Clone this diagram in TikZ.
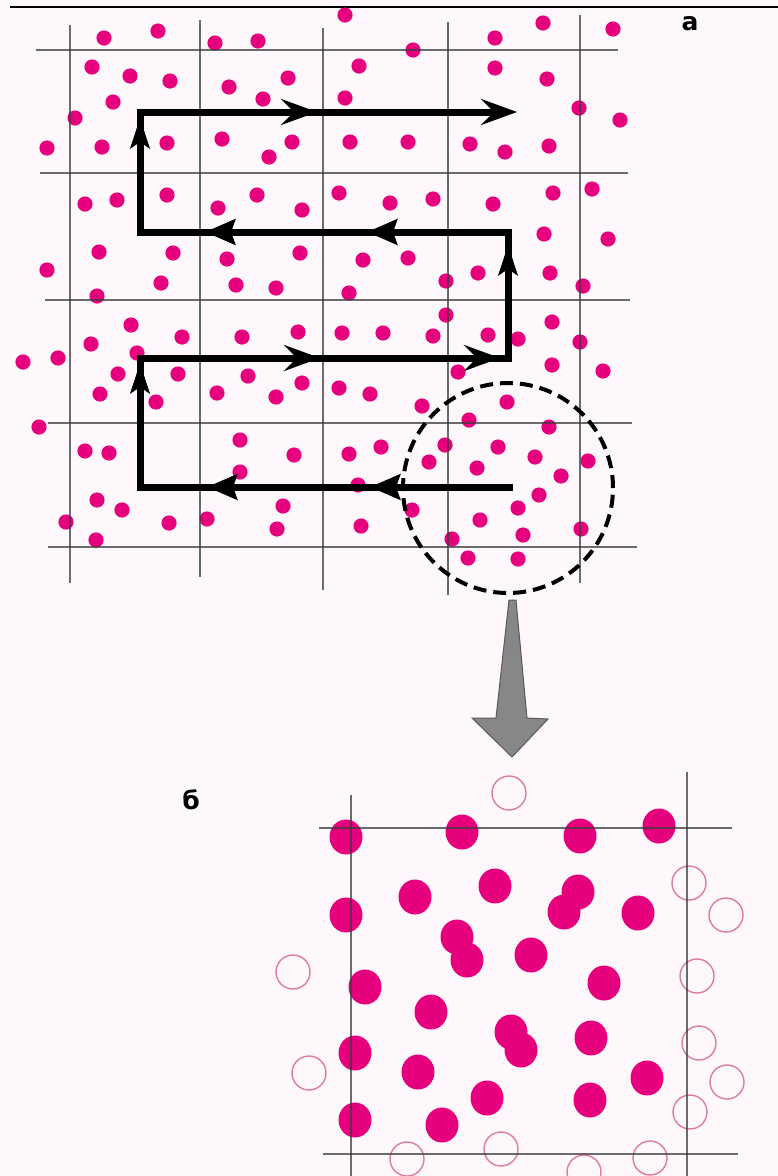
\documentclass[tikz,border=0pt]{standalone}
\usepackage{fontspec}
\newfontfamily\lblfont[BoldFont={DejaVu Sans Bold}]{DejaVu Sans}
\usetikzlibrary{arrows.meta,decorations.markings}
\definecolor{bgc}{RGB}{254,248,252}
\definecolor{mag}{RGB}{230,0,126}
\definecolor{ring}{RGB}{222,125,155}
\definecolor{gridc}{RGB}{60,60,60}
\definecolor{garrow}{RGB}{135,135,135}
\begin{document}
\begin{tikzpicture}[x=1pt,y=-1pt,
  gridline/.style={draw=gridc, line width=1.8pt, draw opacity=0.75},
  smalldot/.style={fill=mag},
  bigdot/.style={fill=mag},
  ringdot/.style={draw=ring, line width=1.4pt},
  lbl/.style={font=\lblfont\bfseries\fontsize{25}{25}\selectfont, inner sep=0pt},
  lefttip/.tip={Stealth[length=30pt,width=25pt,inset=4pt]},
  uptip/.tip={Stealth[length=30pt,width=19pt,inset=6pt]},
  righttip/.tip={Stealth[length=36pt,width=26pt,inset=13pt]}]
\fill[bgc] (0,0) rectangle (778,1176);
\useasboundingbox (0,0) rectangle (778,1176);
% top rule
\draw[line width=2.5pt] (10,7) -- (778,7);
% ---- panel a: dots
\foreach \x/\y in {345/15,104/38,158/31,215/43,258/41,92/67,130/76,170/81,229/87,288/78,359/66,
 113/102,263/99,345/98,75/118,47/148,102/147,167/143,222/139,269/157,292/142,350/142,
 85/204,117/200,167/195,218/208,257/195,302/210,339/193,390/203,99/252,173/253,227/259,
 300/253,363/260,47/270,161/283,236/285,276/288,349/293,97/296,
 543/23,613/29,495/38,413/50,495/68,547/79,579/108,620/120,408/142,470/144,505/152,549/146,
 433/199,493/204,553/193,592/189,544/234,608/239,408/258,446/281,478/273,550/273,583/286,
 131/325,91/344,182/337,242/337,298/332,342/333,383/333,23/362,58/358,137/353,118/374,
 178/374,248/376,100/394,156/402,217/393,276/397,302/383,339/388,370/394,39/427,85/451,
 109/453,240/440,294/455,349/454,381/447,240/472,358/485,97/500,122/510,283/506,66/522,
 169/523,207/519,277/529,361/526,96/540,
 446/315,552/322,433/336,488/335,518/339,580/342,458/372,552/365,603/371,422/406,507/402,
 469/420,549/427,445/445,498/447,535/457,429/462,477/468,588/461,561/476,539/495,412/510,
 518/508,480/520,523/535,581/529,452/539,468/558,518/559}
  \fill[smalldot] (\x,\y) circle[radius=7.6pt];
% ---- panel a: grid
\draw[gridline] (70,25) -- (70,583);
\draw[gridline] (200,20) -- (200,577);
\draw[gridline] (323,28) -- (323,590);
\draw[gridline] (448,22) -- (448,595);
\draw[gridline] (580,15) -- (580,583);
\draw[gridline] (36,50) -- (618,50);
\draw[gridline] (40,173) -- (628,173);
\draw[gridline] (45,300) -- (630,300);
\draw[gridline] (48,423) -- (632,423);
\draw[gridline] (48,547) -- (637,547);
% ---- scan path
\coordinate (p0) at (513,487);
\coordinate (p1) at (140,487);
\coordinate (p2) at (140,358);
\coordinate (p3) at (508,358);
\coordinate (p4) at (508,232);
\coordinate (p5) at (140,232);
\coordinate (p6) at (140,112);
\coordinate (p7) at (517,112);
\draw[line width=7pt, line join=miter, -righttip,
  postaction={decorate},
  decoration={markings,
    mark=at position 143pt with {\arrow{lefttip}},
    mark=at position 306pt with {\arrow{lefttip}},
    mark=at position 497pt with {\arrow{uptip}},
    mark=at position 682pt with {\arrow{righttip}},
    mark=at position 862pt with {\arrow{righttip}},
    mark=at position 983pt with {\arrow{uptip}},
    mark=at position 1137pt with {\arrow{lefttip}},
    mark=at position 1299pt with {\arrow{lefttip}},
    mark=at position 1478pt with {\arrow{uptip}},
    mark=at position 1661pt with {\arrow{righttip}}}]
  (p0) -- (p1) -- (p2) -- (p3) -- (p4) -- (p5) -- (p6) -- (p7);
% dashed circle
\draw[line width=4pt, dash pattern=on 13pt off 7pt] (508,488) circle[radius=105pt];
% gray arrow
\filldraw[fill=garrow, draw=gray!70!black, line width=1pt, line join=miter]
  (509,600) -- (516,600) -- (527,718) -- (548,719) -- (512,757) -- (472,718) -- (496,718) -- cycle;
% labels
\node[lbl] (la) at (690,24) {а};
\node[lbl] (lb) at (191,800) {б};
% ---- panel b: filled dots
\foreach \x/\y in {346/837,462/832,580/836,659/826,415/897,495/886,578/892,564/912,638/913,
 346/915,457/937,467/960,531/955,604/983,365/987,431/1012,511/1032,521/1050,591/1038,
 355/1053,418/1072,487/1098,590/1100,647/1078,355/1120,442/1125}
  \fill[bigdot] (\x,\y) ellipse[x radius=16.5pt, y radius=17.5pt];
% open rings
\foreach \x/\y in {509/793,689/883,726/915,293/972,697/976,699/1043,309/1073,727/1082,
 690/1112,407/1159,501/1149,650/1158,584/1172}
  \draw[ringdot] (\x,\y) circle[radius=17pt];
% panel b grid
\draw[gridline] (351,795) -- (351,1176);
\draw[gridline] (687,772) -- (687,1176);
\draw[gridline] (319,828) -- (732,828);
\draw[gridline] (323,1154) -- (738,1154);
\end{tikzpicture}
\end{document}
